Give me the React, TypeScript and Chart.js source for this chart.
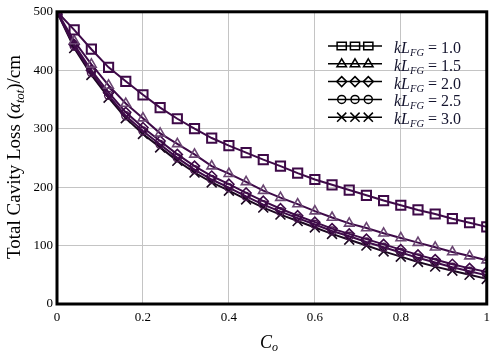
import React, { useEffect, useRef } from "react";
import { Chart, registerables } from "chart.js";

Chart.register(...registerables);

const coValues = [0, 0.04, 0.08, 0.12, 0.16, 0.2, 0.24, 0.28, 0.32, 0.36, 0.4, 0.44, 0.48, 0.52, 0.56, 0.6, 0.64, 0.68, 0.72, 0.76, 0.8, 0.84, 0.88, 0.92, 0.96, 1.0];

const loss10 = [500, 469, 436, 405, 381, 358, 336, 317, 300, 284, 271, 259, 247, 236, 224, 213, 204, 195, 186, 177, 169, 161, 154, 146, 139, 132];
const loss15 = [500, 450, 410, 374, 343, 318, 292, 274, 256, 236, 223, 209, 194, 182, 171, 159, 148, 138, 130, 121, 113, 105, 97, 89, 82, 75];
const loss20 = [500, 444, 400, 362, 328, 302, 279, 256, 236, 219, 205, 190, 176, 163, 151, 140, 129, 120, 111, 102, 93, 84, 76, 68, 61, 55];
const loss25 = [500, 441, 396, 357, 322, 296, 273, 250, 230, 213, 199, 184, 170, 158, 147, 136, 125, 116, 106, 97, 88, 79, 71, 63, 56, 49];
const loss30 = [500, 438, 392, 353, 318, 291, 268, 245, 225, 208, 194, 179, 165, 153, 142, 131, 120, 110, 100, 90, 81, 72, 64, 57, 50, 43];

const legendLabels = ["1.0", "1.5", "2.0", "2.5", "3.0"];
const xTickLabels = ["0", "0.2", "0.4", "0.6", "0.8", "1"];

const SERIF = "'Liberation Serif', 'Times New Roman', serif";

const seriesStyle = [
  { data: loss10, line: "#3e0a48", mark: "#3e0a48", style: "rect", r: 6.5, bw: 2 },
  { data: loss15, line: "#3e0a48", mark: "#6a4572", style: "triangle", r: 5.5, bw: 1.6 },
  { data: loss20, line: "#3e0a48", mark: "#3e0a48", style: "rectRot", r: 5, bw: 1.6 },
  { data: loss25, line: "#3e0a48", mark: "#4a1a50", style: "circle", r: 4, bw: 1.4 },
  { data: loss30, line: "#1b0820", mark: "#1b0820", style: "crossRot", r: 7, bw: 1.6 },
];

function drawMarker(ctx: CanvasRenderingContext2D, style: string, x: number, y: number, r: number) {
  ctx.beginPath();
  if (style === "rect") {
    const s = Math.SQRT1_2 * r;
    ctx.rect(x - s, y - s * 0.8, 2 * s, 2 * s * 0.8);
  } else if (style === "triangle") {
    ctx.moveTo(x, y - r);
    ctx.lineTo(x + r * 0.95, y + r * 0.6);
    ctx.lineTo(x - r * 0.95, y + r * 0.6);
    ctx.closePath();
  } else if (style === "rectRot") {
    ctx.moveTo(x - r, y);
    ctx.lineTo(x, y - r);
    ctx.lineTo(x + r, y);
    ctx.lineTo(x, y + r);
    ctx.closePath();
  } else if (style === "circle") {
    ctx.arc(x, y, r, 0, Math.PI * 2);
  } else if (style === "crossRot") {
    const s = Math.SQRT1_2 * r;
    ctx.moveTo(x - s, y - s);
    ctx.lineTo(x + s, y + s);
    ctx.moveTo(x + s, y - s);
    ctx.lineTo(x - s, y + s);
  }
  ctx.stroke();
}

const decorPlugin = {
  id: "decor",
  afterDraw(chart: any) {
    const ctx: CanvasRenderingContext2D = chart.ctx;
    const a = chart.chartArea;
    ctx.save();
    // frame
    ctx.strokeStyle = "#000";
    ctx.lineWidth = 3;
    ctx.strokeRect(a.left, a.top, a.right - a.left, a.bottom - a.top);

    // legend
    const legendStyles = ["rect", "triangle", "rectRot", "circle", "crossRot"];
    const legendR = [6.5, 5, 5, 4, 6.5];
    for (let i = 0; i < 5; i++) {
      const y = 46 + i * 17.8;
      ctx.strokeStyle = "#000";
      ctx.lineWidth = 1.5;
      ctx.beginPath();
      ctx.moveTo(328, y);
      ctx.lineTo(382, y);
      ctx.stroke();
      for (const mx of [341.7, 355, 368.3]) {
        drawMarker(ctx, legendStyles[i], mx, y, legendR[i]);
      }
      let tx = 394;
      const ty = y + 7;
      ctx.fillStyle = "#14142e";
      ctx.textBaseline = "alphabetic";
      ctx.textAlign = "left";
      ctx.font = `italic 16px ${SERIF}`;
      ctx.fillText("kL", tx, ty);
      tx += ctx.measureText("kL").width;
      ctx.font = `italic 10.5px ${SERIF}`;
      ctx.fillText("FG", tx, ty + 3);
      tx += ctx.measureText("FG").width;
      ctx.font = `16px ${SERIF}`;
      ctx.fillText(" = " + legendLabels[i], tx, ty);
    }

    // x title
    ctx.fillStyle = "#000";
    ctx.font = `italic 18px ${SERIF}`;
    ctx.textBaseline = "alphabetic";
    const cw = ctx.measureText("C").width;
    ctx.font = `italic 12px ${SERIF}`;
    const ow = ctx.measureText("o").width;
    let xs = 269 - (cw + ow) / 2;
    ctx.font = `italic 18px ${SERIF}`;
    ctx.fillText("C", xs, 348);
    ctx.font = `italic 12px ${SERIF}`;
    ctx.fillText("o", xs + cw, 351);

    // y title
    ctx.save();
    ctx.translate(20, 157);
    ctx.rotate(-Math.PI / 2);
    const parts = [
      { t: "Total Cavity Loss (", f: `19px ${SERIF}`, dy: 0 },
      { t: "α", f: `italic 19px ${SERIF}`, dy: 0 },
      { t: "tot", f: `italic 12.5px ${SERIF}`, dy: 4 },
      { t: ")/cm", f: `19px ${SERIF}`, dy: 0 },
    ];
    let total = 0;
    for (const p of parts) {
      ctx.font = p.f;
      total += ctx.measureText(p.t).width;
    }
    let px = -total / 2;
    for (const p of parts) {
      ctx.font = p.f;
      ctx.fillText(p.t, px, p.dy);
      px += ctx.measureText(p.t).width;
    }
    ctx.restore();
    ctx.restore();
  },
};

export default function App() {
  const ref = useRef<HTMLCanvasElement | null>(null);
  useEffect(() => {
    if (!ref.current) return;
    const datasets = seriesStyle.map((s, i) => ({
      label: "kLFG = " + legendLabels[i],
      data: coValues.map((c, j) => ({ x: c, y: s.data[j] })),
      borderColor: s.line,
      borderWidth: 2,
      pointStyle: s.style,
      pointRadius: s.r,
      pointBorderColor: s.mark,
      pointBorderWidth: s.bw,
      pointBackgroundColor: "rgba(0,0,0,0)",
      tension: 0,
      fill: false,
    }));
    const chart = new Chart(ref.current, {
      type: "line",
      data: { datasets },
      options: {
        responsive: false,
        animation: false,
        maintainAspectRatio: false,
        layout: { padding: { left: 0, right: 8, top: 9, bottom: 0 } },
        plugins: { legend: { display: false }, tooltip: { enabled: false } },
        scales: {
          x: {
            type: "linear",
            min: 0,
            max: 1,
            ticks: {
              stepSize: 0.2,
              color: "#000",
              padding: 6,
              maxRotation: 0,
              font: { family: SERIF, size: 13 },
              callback: (v: any, i: number) => xTickLabels[i] ?? String(v),
            },
            grid: { color: "#c4c4c4", lineWidth: 1, drawTicks: false },
            border: { display: false },
            afterFit: (s: any) => {
              s.height = 49;
            },
          },
          y: {
            type: "linear",
            min: 0,
            max: 500,
            ticks: {
              stepSize: 100,
              color: "#000",
              padding: 4,
              font: { family: SERIF, size: 13 },
            },
            grid: { color: "#c4c4c4", lineWidth: 1, drawTicks: false },
            border: { display: false },
            afterFit: (s: any) => {
              s.width = 57;
            },
          },
        },
      },
      plugins: [decorPlugin],
    } as any);
    return () => chart.destroy();
  }, []);
  return (
    <div style={{ position: "fixed", left: 0, top: 0, width: 496, height: 353, background: "#fff" }}>
      <canvas ref={ref} width={496} height={353} style={{ width: 496, height: 353 }} />
    </div>
  );
}
